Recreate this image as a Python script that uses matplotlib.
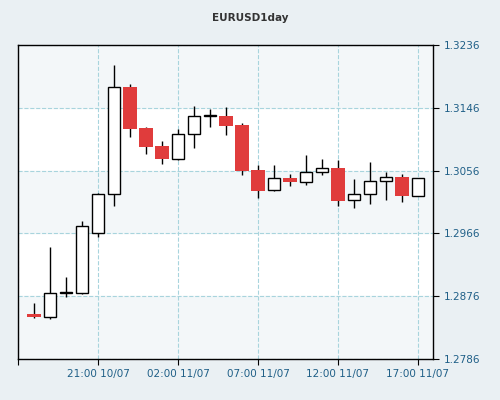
import matplotlib.pyplot as plt
from matplotlib.patches import Rectangle

# hourly candles, 17:00 10/07 .. 17:00 11/07
opens = [1.2851, 1.2846, 1.2881, 1.2881, 1.2967, 1.3022, 1.3176, 1.3117, 1.3091,
         1.3073, 1.3108, 1.3134, 1.3134, 1.3121, 1.3057, 1.3028, 1.3045, 1.3040,
         1.3054, 1.3060, 1.3014, 1.3022, 1.3041, 1.3047, 1.3020]
highs = [1.2866, 1.2947, 1.2904, 1.2984, 1.3024, 1.3207, 1.3180, 1.3118, 1.3098,
         1.3116, 1.3149, 1.3144, 1.3147, 1.3124, 1.3064, 1.3064, 1.3051, 1.3078,
         1.3073, 1.3071, 1.3044, 1.3068, 1.3054, 1.3051, 1.3045]
lows = [1.2845, 1.2843, 1.2875, 1.2879, 1.2961, 1.3005, 1.3104, 1.3080, 1.3065,
        1.3071, 1.3088, 1.3118, 1.3107, 1.3050, 1.3017, 1.3027, 1.3034, 1.3035,
        1.3050, 1.3005, 1.3002, 1.3008, 1.3014, 1.3011, 1.3019]
closes = [1.2846, 1.2881, 1.2882, 1.2977, 1.3022, 1.3176, 1.3116, 1.3090, 1.3073,
          1.3108, 1.3134, 1.3135, 1.3120, 1.3055, 1.3027, 1.3045, 1.3040, 1.3054,
          1.3060, 1.3012, 1.3022, 1.3041, 1.3047, 1.3020, 1.3045]
y_ticks = [1.2786, 1.2876, 1.2966, 1.3056, 1.3146, 1.3236]
x_tick_pos = [4, 9, 14, 19, 24]
x_tick_labels = ["21:00 10/07", "02:00 11/07", "07:00 11/07", "12:00 11/07", "17:00 11/07"]

fig = plt.figure(figsize=(5, 4), dpi=100, facecolor="#eaf0f3")
ax = fig.add_axes([0.036, 0.1025, 0.83, 0.785])
ax.set_facecolor("white")

# alternating bands
for i in range(len(y_ticks) - 1):
    if i % 2 == 0 or i == len(y_ticks) - 2:
        ax.axhspan(y_ticks[i], y_ticks[i + 1], color="#f3f7f9", zorder=0)

for x, o, h, l, c in zip(range(len(opens)), opens, highs, lows, closes):
    ax.vlines(x, l, h, color="black", lw=1, zorder=2)
    bottom = min(o, c)
    height = max(abs(c - o), 0.00008)
    if c >= o:
        ax.add_patch(Rectangle((x - 0.4, bottom), 0.8, height, facecolor="white",
                               edgecolor="black", lw=1, zorder=3))
    else:
        ax.add_patch(Rectangle((x - 0.45, bottom), 0.9, height, facecolor="#e03c3c",
                               edgecolor="none", zorder=3))

ax.set_xlim(-1, 24.94)
ax.set_ylim(1.2786, 1.3236)
ax.set_yticks(y_ticks)
ax.set_yticklabels([f"{v:.4f}" for v in y_ticks], color="#1f5f87", fontsize=7.5)
ax.yaxis.tick_right()
ax.set_xticks([-1] + x_tick_pos)
ax.set_xticklabels([""] + x_tick_labels, color="#1f5f87", fontsize=7.5)
ax.tick_params(length=4, color="black")
ax.grid(True, color="#a8d4dd", ls="--", lw=0.8, zorder=1)
for s in ax.spines.values():
    s.set_linewidth(1)
    s.set_zorder(5)

fig.text(0.5, 0.955, "EURUSD1day", ha="center", va="center", fontsize=7.5,
         fontweight="bold", color="#333333")
fig.savefig("out.png", dpi=100, facecolor=fig.get_facecolor())
